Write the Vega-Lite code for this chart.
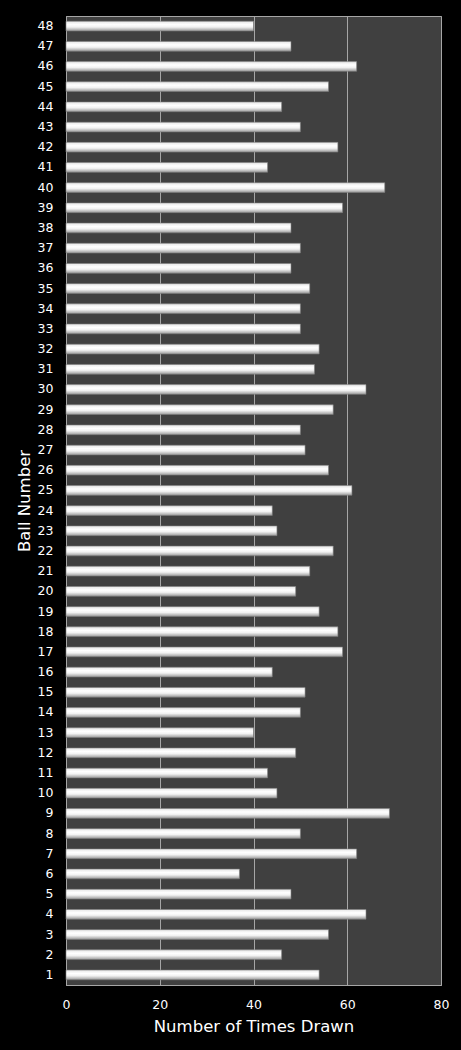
{
  "$schema": "https://vega.github.io/schema/vega-lite/v6.json",
  "autosize": {"type": "none"},
  "padding": {"left": 66, "top": 16, "right": 20, "bottom": 65},
  "width": 375,
  "height": 969,
  "background": "#000000",
  "data": {
    "values": [
      {"ball": 1, "drawn": 54}, {"ball": 2, "drawn": 46}, {"ball": 3, "drawn": 56},
      {"ball": 4, "drawn": 64}, {"ball": 5, "drawn": 48}, {"ball": 6, "drawn": 37},
      {"ball": 7, "drawn": 62}, {"ball": 8, "drawn": 50}, {"ball": 9, "drawn": 69},
      {"ball": 10, "drawn": 45}, {"ball": 11, "drawn": 43}, {"ball": 12, "drawn": 49},
      {"ball": 13, "drawn": 40}, {"ball": 14, "drawn": 50}, {"ball": 15, "drawn": 51},
      {"ball": 16, "drawn": 44}, {"ball": 17, "drawn": 59}, {"ball": 18, "drawn": 58},
      {"ball": 19, "drawn": 54}, {"ball": 20, "drawn": 49}, {"ball": 21, "drawn": 52},
      {"ball": 22, "drawn": 57}, {"ball": 23, "drawn": 45}, {"ball": 24, "drawn": 44},
      {"ball": 25, "drawn": 61}, {"ball": 26, "drawn": 56}, {"ball": 27, "drawn": 51},
      {"ball": 28, "drawn": 50}, {"ball": 29, "drawn": 57}, {"ball": 30, "drawn": 64},
      {"ball": 31, "drawn": 53}, {"ball": 32, "drawn": 54}, {"ball": 33, "drawn": 50},
      {"ball": 34, "drawn": 50}, {"ball": 35, "drawn": 52}, {"ball": 36, "drawn": 48},
      {"ball": 37, "drawn": 50}, {"ball": 38, "drawn": 48}, {"ball": 39, "drawn": 59},
      {"ball": 40, "drawn": 68}, {"ball": 41, "drawn": 43}, {"ball": 42, "drawn": 58},
      {"ball": 43, "drawn": 50}, {"ball": 44, "drawn": 46}, {"ball": 45, "drawn": 56},
      {"ball": 46, "drawn": 62}, {"ball": 47, "drawn": 48}, {"ball": 48, "drawn": 40}
    ]
  },
  "config": {
    "view": {"fill": "#404040", "stroke": "#a6a6a6", "strokeWidth": 1},
    "font": "DejaVu Sans"
  },
  "mark": {
    "type": "bar",
    "stroke": "#7f7f7f",
    "strokeWidth": 0.6,
    "color": {
      "gradient": "linear",
      "x1": 0, "y1": 0, "x2": 0, "y2": 1,
      "stops": [
        {"offset": 0, "color": "#e6e6e6"},
        {"offset": 0.35, "color": "#ffffff"},
        {"offset": 0.6, "color": "#f2f2f2"},
        {"offset": 1, "color": "#9a9a9a"}
      ]
    }
  },
  "encoding": {
    "y": {
      "field": "ball",
      "type": "ordinal",
      "sort": "descending",
      "scale": {"paddingInner": 0.52, "paddingOuter": 0.26},
      "axis": {
        "title": "Ball Number",
        "titleColor": "#ffffff",
        "titleFont": "DejaVu Sans",
        "titleFontSize": 16.5,
        "titleFontWeight": "normal",
        "titlePadding": 5,
        "labelColor": "#ffffff",
        "labelFontSize": 12.5,
        "labelPadding": 13,
        "ticks": false,
        "domainColor": "#a6a6a6",
        "grid": false
      }
    },
    "x": {
      "field": "drawn",
      "type": "quantitative",
      "scale": {"domain": [0, 80], "nice": false},
      "axis": {
        "title": "Number of Times Drawn",
        "titleColor": "#ffffff",
        "titleFont": "DejaVu Sans",
        "titleFontSize": 16.5,
        "titleFontWeight": "normal",
        "titlePadding": 8,
        "values": [0, 20, 40, 60, 80],
        "labelColor": "#ffffff",
        "labelFontSize": 12.5,
        "labelPadding": 13,
        "labelFlush": false,
        "labelBound": false,
        "ticks": false,
        "domainColor": "#a6a6a6",
        "grid": true,
        "gridColor": "#a6a6a6",
        "gridWidth": 1
      }
    }
  }
}
